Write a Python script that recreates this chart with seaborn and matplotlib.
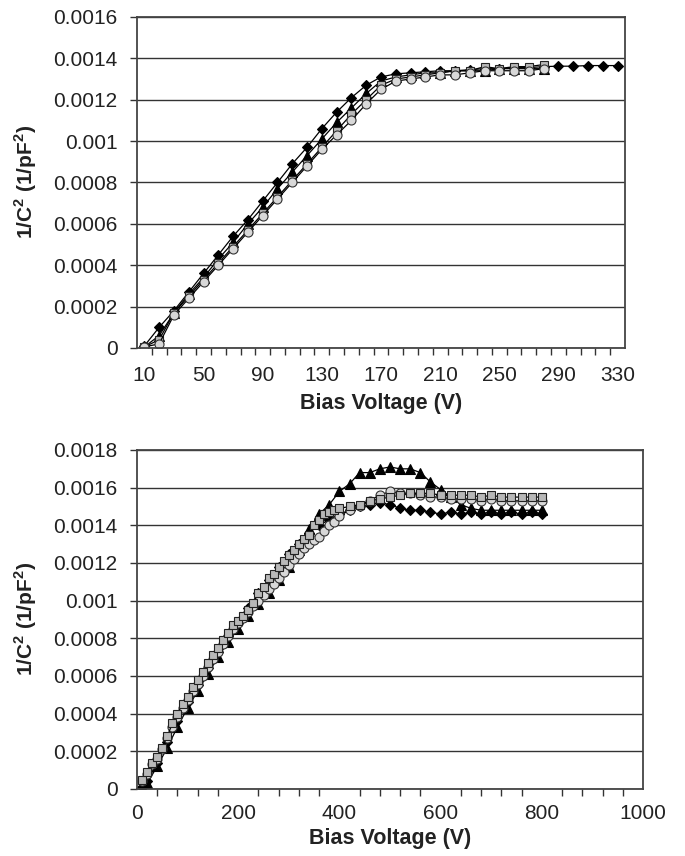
import numpy as np
import pandas as pd
import seaborn as sns
import matplotlib.pyplot as plt
from matplotlib.ticker import FixedLocator, FuncFormatter

# ---- top panel data (bias step 10 V) ----
top_v_long = list(range(10, 340, 10))
top_v_short = list(range(10, 290, 10))

top_diamond = [0.00001, 0.0001, 0.00018, 0.00027, 0.00036, 0.00045, 0.00054, 0.00062, 0.00071, 0.0008,
               0.00089, 0.00097, 0.00106, 0.00114, 0.00121, 0.00127, 0.00131, 0.001325, 0.00133, 0.001335,
               0.00134, 0.00134, 0.001345, 0.00135, 0.00135, 0.001355, 0.001355, 0.00136, 0.001362, 0.001362,
               0.001365, 0.001365, 0.001365]
top_triangle = [0.000005, 0.00006, 0.00017, 0.00026, 0.00034, 0.00043, 0.00051, 0.0006, 0.00068, 0.00077,
                0.00085, 0.00093, 0.00101, 0.00109, 0.00116, 0.00123, 0.00129, 0.00131, 0.00132, 0.00133,
                0.00133, 0.00134, 0.00134, 0.00134, 0.00135, 0.00135, 0.00135, 0.00135]
top_square = [0.000005, 0.00004, 0.00017, 0.00025, 0.00033, 0.00041, 0.00049, 0.00057, 0.00065, 0.00073,
              0.00081, 0.00089, 0.00097, 0.00105, 0.00113, 0.0012, 0.00127, 0.0013, 0.00131, 0.00132,
              0.00133, 0.00134, 0.00134, 0.00136, 0.00135, 0.00136, 0.00136, 0.00137]
top_circle = [0.000005, 0.00002, 0.00016, 0.00024, 0.00032, 0.0004, 0.00048, 0.00056, 0.00064, 0.00072,
              0.0008, 0.00088, 0.00096, 0.00103, 0.0011, 0.00118, 0.00125, 0.00129, 0.0013, 0.00131,
              0.00132, 0.00132, 0.00133, 0.00134, 0.00134, 0.00134, 0.00134, 0.00135]

# ---- bottom panel data ----
bot_v_fine = list(range(10, 410, 10)) + list(range(420, 820, 20))
bot_v_coarse = [10] + list(range(20, 820, 20))

bot_square = [0.00005, 0.00009, 0.00014, 0.00017, 0.00022, 0.00028, 0.00035, 0.0004, 0.00045, 0.00049,
              0.00054, 0.00058, 0.00062, 0.00067, 0.00071, 0.00075, 0.00079, 0.00083, 0.00087, 0.00089,
              0.00092, 0.00095, 0.00099, 0.00104, 0.00107, 0.00112, 0.00114, 0.00118, 0.00121, 0.00124,
              0.00127, 0.0013, 0.00133, 0.00135, 0.0014, 0.00143, 0.00146, 0.00147, 0.00148, 0.00149,
              0.0015, 0.00151, 0.00153, 0.00154, 0.00155, 0.00156, 0.00157, 0.00157, 0.00157, 0.00156,
              0.00156, 0.00156, 0.00156, 0.00155, 0.00156, 0.00155, 0.00155, 0.00155, 0.00155, 0.00155]
bot_circle = [0.00004, 0.00008, 0.00013, 0.00016, 0.00021, 0.00027, 0.00033, 0.00038, 0.00043, 0.00047,
              0.00052, 0.00056, 0.0006, 0.00065, 0.00069, 0.00073, 0.00077, 0.00081, 0.00085, 0.00088,
              0.00091, 0.00094, 0.00097, 0.001, 0.00103, 0.00106, 0.00109, 0.00112, 0.00115, 0.00119,
              0.00122, 0.00125, 0.00128, 0.0013, 0.00132, 0.00134, 0.00137, 0.0014, 0.00142, 0.00145,
              0.00148, 0.0015, 0.00153, 0.00156, 0.00158, 0.00157, 0.00157, 0.00156, 0.00155, 0.00155,
              0.00154, 0.00154, 0.00154, 0.00153, 0.00154, 0.00153, 0.00153, 0.00153, 0.00153, 0.00153]
bot_diamond = [0.00001, 0.00004, 0.00014, 0.00025, 0.00036, 0.00046, 0.00055, 0.00064, 0.00073, 0.00081,
               0.00088, 0.00096, 0.00104, 0.00111, 0.00118, 0.00125, 0.0013, 0.00136, 0.0014, 0.00143,
               0.00146, 0.00148, 0.0015, 0.00151, 0.00152, 0.00151, 0.00149, 0.00148, 0.00148, 0.00147,
               0.00146, 0.00147, 0.00146, 0.00147, 0.00146, 0.00147, 0.00146, 0.00147, 0.00146, 0.00147,
               0.00146]
bot_triangle = [0.00001, 0.00003, 0.00012, 0.00022, 0.00033, 0.00043, 0.00052, 0.00061, 0.0007, 0.00078,
                0.00085, 0.00092, 0.00098, 0.00104, 0.00111, 0.00118, 0.00127, 0.00138, 0.00146, 0.00151,
                0.00158, 0.00162, 0.00168, 0.00168, 0.0017, 0.00171, 0.0017, 0.0017, 0.00168, 0.00163,
                0.00159, 0.00155, 0.00151, 0.00149, 0.00148, 0.00148, 0.00148, 0.00148, 0.00148, 0.00148,
                0.00148]

sns.set_style('white')
plt.rcParams['font.family'] = ['Liberation Sans', 'DejaVu Sans']
plt.rcParams['mathtext.fontset'] = 'custom'
plt.rcParams['mathtext.rm'] = 'Liberation Sans'
plt.rcParams['mathtext.bf'] = 'Liberation Sans:bold'

fig = plt.figure(figsize=(6.85, 8.56), dpi=100)
ax1 = fig.add_axes([0.2, 0.5935, 0.7124, 0.3867])
ax2 = fig.add_axes([0.2, 0.0783, 0.7387, 0.396])

styles = {
    'diamond': dict(marker='D', markersize=5, markerfacecolor='black', markeredgecolor='black'),
    'triangle': dict(marker='^', markersize=6.5, markerfacecolor='black', markeredgecolor='black'),
    'square': dict(marker='s', markersize=6, markerfacecolor='#b8b8b8', markeredgecolor='#222222'),
    'circle': dict(marker='o', markersize=6.5, markerfacecolor='#d8d8d8', markeredgecolor='#333333'),
}


def draw(ax, v, vals, kind):
    df = pd.DataFrame({'V': v, 'y': vals})
    sns.lineplot(data=df, x='V', y='y', ax=ax, color='black', linewidth=0.9,
                 estimator=None, sort=True, markeredgewidth=0.8, **styles[kind])


draw(ax1, top_v_long, top_diamond, 'diamond')
draw(ax1, top_v_short, top_triangle, 'triangle')
draw(ax1, top_v_short, top_square, 'square')
draw(ax1, top_v_short, top_circle, 'circle')

draw(ax2, bot_v_coarse, bot_diamond, 'diamond')
draw(ax2, bot_v_coarse, bot_triangle, 'triangle')
draw(ax2, bot_v_fine, bot_circle, 'circle')
draw(ax2, bot_v_fine, bot_square, 'square')

fmt = FuncFormatter(lambda y, p: '0' if y == 0 else '{:g}'.format(round(y, 6)))
ylabel = r'1/C$^{\mathbf{2}}$ (1/pF$^{\mathbf{2}}$)'

# top axes: category-like x axis
ax1.set_xlim(5, 335)
ax1.set_ylim(0, 0.0016)
ax1.xaxis.set_major_locator(FixedLocator(list(range(10, 340, 40))))
ax1.xaxis.set_minor_locator(FixedLocator(list(range(15, 335, 10))))
ax1.tick_params(axis='x', which='major', length=0, pad=13)
ax1.tick_params(axis='x', which='minor', length=5, width=1, color='#333333', direction='out', bottom=True)
ax1.set_yticks(np.arange(0, 0.00161, 0.0002))

# bottom axes
ax2.set_xlim(0, 1000)
ax2.set_ylim(0, 0.0018)
ax2.xaxis.set_major_locator(FixedLocator(list(range(0, 1001, 200))))
ax2.xaxis.set_minor_locator(FixedLocator([v for v in range(40, 1000, 40) if v % 200]))
ax2.tick_params(axis='x', which='major', length=7, width=1, color='#333333', direction='inout', pad=7)
ax2.tick_params(axis='x', which='minor', length=5, width=1, color='#333333', direction='out', bottom=True)
ax2.set_yticks(np.arange(0, 0.00181, 0.0002))

for ax in (ax1, ax2):
    ax.yaxis.set_major_formatter(fmt)
    ax.tick_params(axis='y', length=5, width=1, color='#333333', direction='out', left=True, pad=9)
    ax.tick_params(labelsize=15, labelcolor='#222222')
    ax.grid(axis='y', color='#333333', linewidth=1)
    ax.grid(axis='x', visible=False)
    ax.set_axisbelow(True)
    for s in ax.spines.values():
        s.set_color('#444444')
        s.set_linewidth(1.3)
    ax.set_ylabel(ylabel, fontsize=15, fontweight='bold', color='#222222', labelpad=10)

ax1.set_xlabel('Bias Voltage (V)', fontsize=15.5, fontweight='bold', color='#222222', labelpad=6)
ax2.set_xlabel('Bias Voltage (V)', fontsize=15.5, fontweight='bold', color='#222222', labelpad=4)

fig.savefig('out.png', dpi=100, facecolor='white')
